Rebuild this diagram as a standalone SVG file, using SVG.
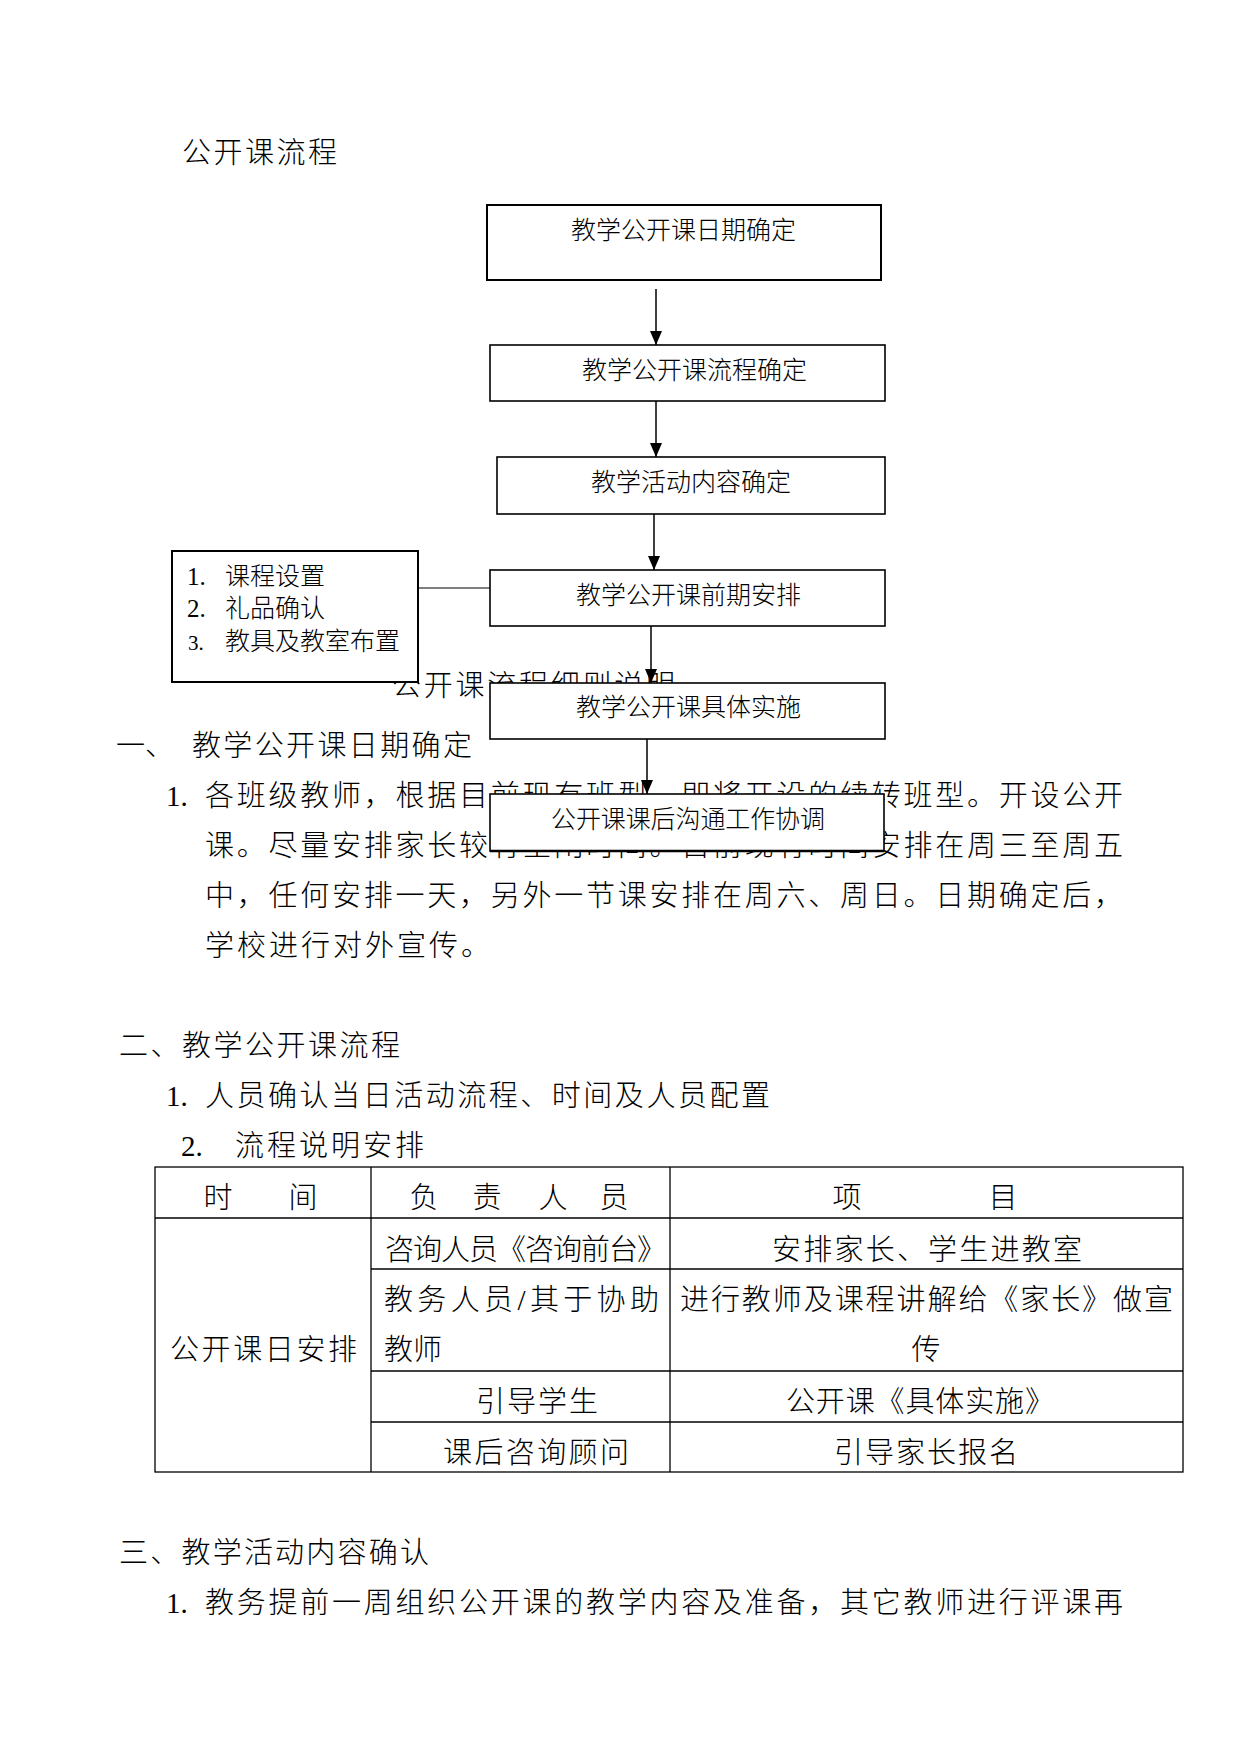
<svg xmlns="http://www.w3.org/2000/svg" width="1241" height="1754" viewBox="0 0 1241 1754">
<style>
text{font-family:"Liberation Serif","Noto Sans CJK SC",serif;fill:#000;font-weight:300}
.b{font-size:29px}
.f{font-size:25px}
.box{fill:#fff;stroke:#000;stroke-width:1.6}
.cn{stroke:#000;stroke-width:1.5;fill:none}
.tl{stroke:#000;stroke-width:1.3;fill:none}
</style>
<defs>
<marker id="arr" markerUnits="userSpaceOnUse" markerWidth="14" markerHeight="12" viewBox="0 0 14 12" refX="14" refY="6" orient="auto">
<path d="M0,0 L14,6 L0,12 z" fill="#000"/>
</marker>
</defs>
<rect width="1241" height="1754" fill="#fff"/>

<g id="body-text">
<text class="b" x="182" y="163" textLength="155" lengthAdjust="spacing">公开课流程</text>
<text class="b" x="392" y="696" textLength="283" lengthAdjust="spacing">公开课流程细则说明</text>
<text class="b" x="116" y="756">一、</text>
<text class="b" x="192" y="756" textLength="280" lengthAdjust="spacing">教学公开课日期确定</text>
<text class="b" x="166" y="806">1.</text>
<text class="b" x="205" y="806" textLength="918" lengthAdjust="spacing">各班级教师，根据目前现有班型，即将开设的续转班型。开设公开</text>
<text class="b" x="205" y="856" textLength="918" lengthAdjust="spacing">课。尽量安排家长较有空闲时间。目前现有时间安排在周三至周五</text>
<text class="b" x="205" y="906" textLength="918" lengthAdjust="spacing">中，任何安排一天，另外一节课安排在周六、周日。日期确定后，</text>
<text class="b" x="205" y="956" textLength="285" lengthAdjust="spacing">学校进行对外宣传。</text>
<text class="b" x="119" y="1056" textLength="281" lengthAdjust="spacing">二、教学公开课流程</text>
<text class="b" x="166" y="1106">1.</text>
<text class="b" x="205" y="1106" textLength="565" lengthAdjust="spacing">人员确认当日活动流程、时间及人员配置</text>
<text class="b" x="181" y="1156">2.</text>
<text class="b" x="235" y="1156" textLength="189" lengthAdjust="spacing">流程说明安排</text>
<text class="b" x="119" y="1563" textLength="310" lengthAdjust="spacing">三、教学活动内容确认</text>
<text class="b" x="166" y="1613">1.</text>
<text class="b" x="205" y="1613" textLength="918" lengthAdjust="spacing">教务提前一周组织公开课的教学内容及准备，其它教师进行评课再</text>
</g>

<g id="table">
<rect class="tl" x="155" y="1167" width="1028" height="305"/>
<line class="tl" x1="371" y1="1167" x2="371" y2="1472"/>
<line class="tl" x1="670" y1="1167" x2="670" y2="1472"/>
<line class="tl" x1="155" y1="1218" x2="1183" y2="1218"/>
<line class="tl" x1="371" y1="1269" x2="1183" y2="1269"/>
<line class="tl" x1="371" y1="1371" x2="1183" y2="1371"/>
<line class="tl" x1="371" y1="1422" x2="1183" y2="1422"/>
<text class="b" x="218 303" y="1208" text-anchor="middle">时间</text>
<text class="b" x="424 487 553 614" y="1208" text-anchor="middle">负责人员</text>
<text class="b" x="847 1003" y="1208" text-anchor="middle">项目</text>
<text class="b" x="170" y="1360" textLength="187" lengthAdjust="spacing">公开课日安排</text>
<text class="b" x="385" y="1260" textLength="281" lengthAdjust="spacing">咨询人员《咨询前台》</text>
<text class="b" x="772" y="1260" textLength="310" lengthAdjust="spacing">安排家长、学生进教室</text>
<text class="b" x="384" y="1310" textLength="275" lengthAdjust="spacing">教务人员/其于协助</text>
<text class="b" x="384" y="1360">教师</text>
<text class="b" x="680" y="1310" textLength="493" lengthAdjust="spacing">进行教师及课程讲解给《家长》做宣</text>
<text class="b" x="926" y="1360" text-anchor="middle">传</text>
<text class="b" x="476" y="1412" textLength="122" lengthAdjust="spacing">引导学生</text>
<text class="b" x="786" y="1412" textLength="268" lengthAdjust="spacing">公开课《具体实施》</text>
<text class="b" x="443" y="1463" textLength="186" lengthAdjust="spacing">课后咨询顾问</text>
<text class="b" x="834" y="1463" textLength="184" lengthAdjust="spacing">引导家长报名</text>
</g>

<g id="connectors">
<line class="cn" x1="656" y1="289" x2="656" y2="345" marker-end="url(#arr)"/>
<line class="cn" x1="656" y1="401" x2="656" y2="457" marker-end="url(#arr)"/>
<line class="cn" x1="654" y1="514" x2="654" y2="570" marker-end="url(#arr)"/>
<line class="cn" x1="651" y1="626" x2="651" y2="683" marker-end="url(#arr)"/>
<line class="cn" x1="647" y1="739" x2="647" y2="794" marker-end="url(#arr)"/>
<line x1="418" y1="588" x2="490" y2="588" stroke="#000" stroke-width="1.1"/>
</g>

<g id="node-date">
<rect class="box" x="487" y="205" width="394" height="75" style="stroke-width:2"/>
<text class="f" x="571" y="239" textLength="225" lengthAdjust="spacing">教学公开课日期确定</text>
</g>
<g id="node-process">
<rect class="box" x="490" y="345" width="395" height="56"/>
<text class="f" x="582" y="379" textLength="225" lengthAdjust="spacing">教学公开课流程确定</text>
</g>
<g id="node-content">
<rect class="box" x="497" y="457" width="388" height="57"/>
<text class="f" x="591" y="491" textLength="200" lengthAdjust="spacing">教学活动内容确定</text>
</g>
<g id="node-prep">
<rect class="box" x="490" y="570" width="395" height="56"/>
<text class="f" x="576" y="604" textLength="225" lengthAdjust="spacing">教学公开课前期安排</text>
</g>
<g id="node-prep-items">
<rect class="box" x="172" y="551" width="246" height="131" style="stroke-width:2"/>
<text class="f" x="187" y="585">1.</text>
<text class="f" x="225" y="585" textLength="100" lengthAdjust="spacing">课程设置</text>
<text class="f" x="187" y="617">2.</text>
<text class="f" x="225" y="617" textLength="100" lengthAdjust="spacing">礼品确认</text>
<text class="f" x="188" y="650" style="font-size:21px">3.</text>
<text class="f" x="225" y="650" textLength="175" lengthAdjust="spacing">教具及教室布置</text>
</g>
<g id="node-implement">
<rect class="box" x="490" y="683" width="395" height="56"/>
<text class="f" x="576" y="716" textLength="225" lengthAdjust="spacing">教学公开课具体实施</text>
</g>
<g id="node-followup">
<rect class="box" x="490" y="794" width="394" height="57"/>
<line x1="490" y1="851" x2="884" y2="851" stroke="#000" stroke-width="2.5"/>
<text class="f" x="551" y="828" textLength="274" lengthAdjust="spacing">公开课课后沟通工作协调</text>
</g>
</svg>
